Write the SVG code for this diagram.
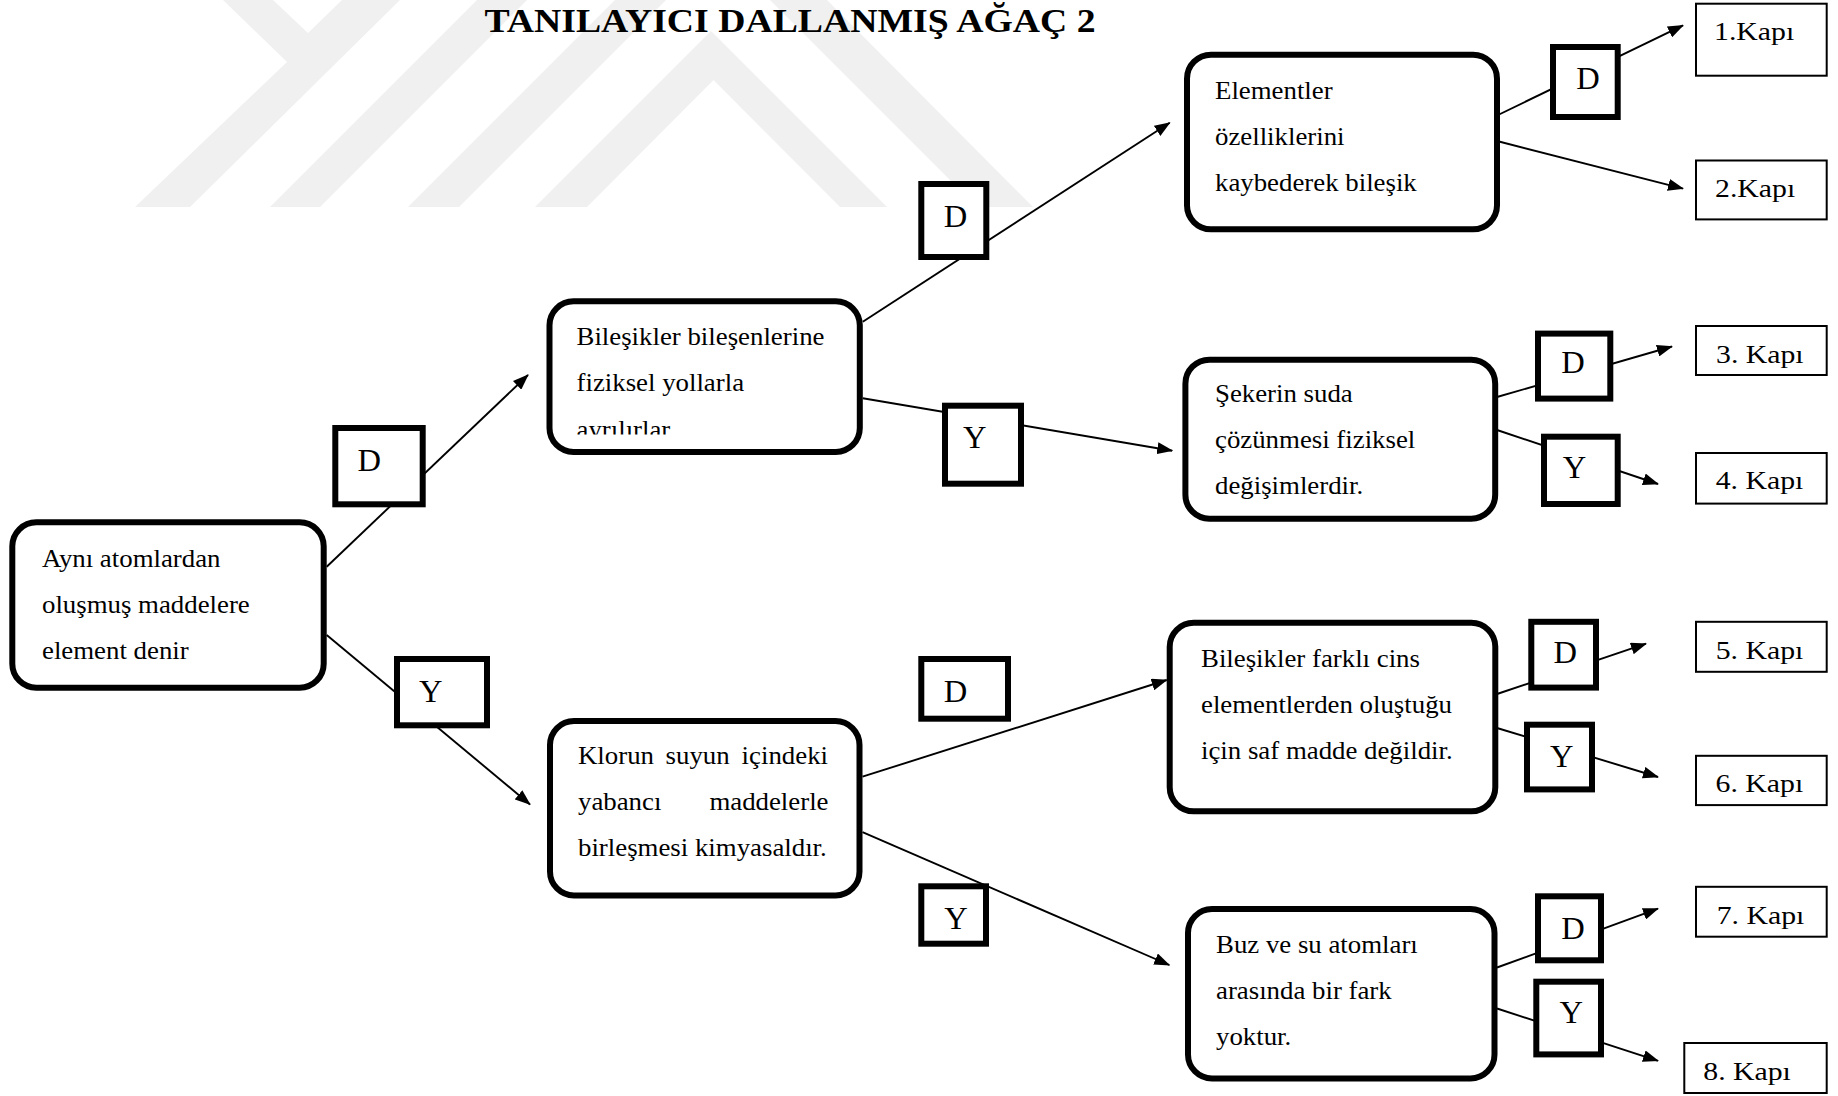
<svg xmlns="http://www.w3.org/2000/svg" width="1838" height="1096" viewBox="0 0 1838 1096">
  <style>
    .bg { fill: #ffffff; }
    .wm { fill: #f0f0f0; }
    .node rect { fill: #ffffff; stroke: #000000; stroke-width: 6; }
    .lbl rect { fill: #ffffff; stroke: #000000; stroke-width: 6; }
    .kapi rect { fill: #ffffff; stroke: #000000; stroke-width: 2; }
    text { font-family: "Liberation Serif", "Times New Roman", serif; fill: #000000; }
    .t { font-size: 24.4px; }
    .lt { font-size: 31px; }
    .kt { font-size: 24.4px; }
    .title { font-size: 33.7px; font-weight: bold; }
    .conn path { fill: none; stroke: #000000; stroke-width: 1.9; marker-end: url(#ah); }
  </style>
  <defs>
    <marker id="ah" markerUnits="userSpaceOnUse" markerWidth="16" markerHeight="12" refX="15" refY="6" orient="auto">
      <path d="M0,0 L16,6 L0,12 z" fill="#000000"/>
    </marker>
    <clipPath id="clipB">
      <rect x="540" y="290" width="330" height="144.5"/>
    </clipPath>
  </defs>

  <rect class="bg" x="0" y="0" width="1838" height="1096"/>

  <!-- faint background emblem -->
  <g id="watermark" class="wm">
    <polygon points="223,0 273,0 308,33 342,0 400,0 190,207 135,207 287,62"/>
    <polygon points="477,0 527,0 320,207 270,207"/>
    <polygon points="615,0 666,0 459,207 408,207"/>
    <polygon points="535,207 711,31 887,207 840,207 713.5,80 587,207"/>
    <polygon points="770,0 827,0 1033,207 977,207"/>
  </g>

  <text id="title" class="title" transform="matrix(1.12 0 0 1 484.4 32.3)">TANILAYICI DALLANMIŞ AĞAÇ 2</text>

  <!-- connectors -->
  <g id="connectors" class="conn">
    <path d="M326.7,566.7 L528,375"/>
    <path d="M326.7,635 L530,804.4"/>
    <path d="M862.8,321.7 L1169.7,122.7"/>
    <path d="M862.8,398.3 L1172.2,450.7"/>
    <path d="M862.5,776.7 L1166.7,680"/>
    <path d="M862.5,832.2 L1169.3,965"/>
    <path d="M1497,115.5 L1683,25.4"/>
    <path d="M1497,141 L1683,188.6"/>
    <path d="M1497,397 L1672,346.5"/>
    <path d="M1497,430 L1658,484"/>
    <path d="M1497,694 L1646,643.7"/>
    <path d="M1497,728 L1658,777"/>
    <path d="M1497,967.5 L1658,908.7"/>
    <path d="M1497,1008.5 L1658,1060.8"/>
  </g>

  <!-- question nodes -->
  <g id="node-root" class="node">
    <rect x="12.3" y="522.3" width="311.4" height="165.4" rx="24"/>
    <text class="t" transform="matrix(1.1 0 0 1 42 567)">Aynı atomlardan</text>
    <text class="t" transform="matrix(1.1 0 0 1 42 613)">oluşmuş maddelere</text>
    <text class="t" transform="matrix(1.1 0 0 1 42 659)">element denir</text>
  </g>

  <g id="node-bilesikler" class="node">
    <rect x="549.5" y="301.3" width="310.3" height="150.7" rx="24"/>
    <text class="t" transform="matrix(1.1 0 0 1 576.5 345)">Bileşikler bileşenlerine</text>
    <text class="t" transform="matrix(1.1 0 0 1 576.5 391)">fiziksel yollarla</text>
    <g clip-path="url(#clipB)">
      <text class="t" transform="matrix(1.1 0 0 1 576.5 438)">ayrılırlar</text>
    </g>
  </g>

  <g id="node-klor" class="node">
    <rect x="550" y="721" width="309.5" height="174.5" rx="24"/>
    <text class="t" transform="matrix(1.1 0 0 1 578 764)">Klorun</text>
    <text class="t" transform="matrix(1.1 0 0 1 665.6 764)">suyun</text>
    <text class="t" text-anchor="end" transform="matrix(1.1 0 0 1 828 764)">içindeki</text>
    <text class="t" transform="matrix(1.1 0 0 1 578 810)">yabancı</text>
    <text class="t" text-anchor="end" transform="matrix(1.1 0 0 1 828.5 810)">maddelerle</text>
    <text class="t" transform="matrix(1.1 0 0 1 578 856)">birleşmesi kimyasaldır.</text>
  </g>

  <g id="node-elementler" class="node">
    <rect x="1187" y="54.7" width="310" height="174.6" rx="24"/>
    <text class="t" transform="matrix(1.1 0 0 1 1215 99)">Elementler</text>
    <text class="t" transform="matrix(1.1 0 0 1 1215 145)">özelliklerini</text>
    <text class="t" transform="matrix(1.1 0 0 1 1215 191)">kaybederek bileşik</text>
  </g>

  <g id="node-seker" class="node">
    <rect x="1185.4" y="359.7" width="309.8" height="159" rx="24"/>
    <text class="t" transform="matrix(1.1 0 0 1 1215 402)">Şekerin suda</text>
    <text class="t" transform="matrix(1.1 0 0 1 1215 448)">çözünmesi fiziksel</text>
    <text class="t" transform="matrix(1.1 0 0 1 1215 494)">değişimlerdir.</text>
  </g>

  <g id="node-farkli" class="node">
    <rect x="1169.7" y="622.8" width="325.6" height="188.5" rx="24"/>
    <text class="t" transform="matrix(1.1 0 0 1 1201 667)">Bileşikler farklı cins</text>
    <text class="t" transform="matrix(1.1 0 0 1 1201 713)">elementlerden oluştuğu</text>
    <text class="t" transform="matrix(1.1 0 0 1 1201 759)">için saf madde değildir.</text>
  </g>

  <g id="node-buz" class="node">
    <rect x="1188" y="909" width="306.5" height="169.5" rx="24"/>
    <text class="t" transform="matrix(1.1 0 0 1 1216 953)">Buz ve su atomları</text>
    <text class="t" transform="matrix(1.1 0 0 1 1216 999)">arasında bir fark</text>
    <text class="t" transform="matrix(1.1 0 0 1 1216 1045)">yoktur.</text>
  </g>

  <!-- D / Y answer labels -->
  <g id="lbl-d1" class="lbl">
    <rect x="335.3" y="428" width="87.4" height="76.3"/>
    <text class="lt" transform="matrix(1.05 0 0 1 357.5 471)">D</text>
  </g>
  <g id="lbl-y1" class="lbl">
    <rect x="397" y="659" width="90" height="66.3"/>
    <text class="lt" transform="matrix(1.05 0 0 1 419 701.7)">Y</text>
  </g>
  <g id="lbl-d2" class="lbl">
    <rect x="921.3" y="184" width="65" height="73"/>
    <text class="lt" transform="matrix(1.05 0 0 1 943.8 226.7)">D</text>
  </g>
  <g id="lbl-y2" class="lbl">
    <rect x="945" y="405.7" width="76" height="78"/>
    <text class="lt" transform="matrix(1.05 0 0 1 963 448)">Y</text>
  </g>
  <g id="lbl-d3" class="lbl">
    <rect x="921.3" y="659" width="86.7" height="59.7"/>
    <text class="lt" transform="matrix(1.05 0 0 1 943.8 702.3)">D</text>
  </g>
  <g id="lbl-y3" class="lbl">
    <rect x="921.3" y="886.3" width="64.7" height="57.4"/>
    <text class="lt" transform="matrix(1.05 0 0 1 944.3 929.3)">Y</text>
  </g>
  <g id="lbl-d4" class="lbl">
    <rect x="1553" y="47" width="64.7" height="70"/>
    <text class="lt" transform="matrix(1.05 0 0 1 1576.2 88.6)">D</text>
  </g>
  <g id="lbl-d5" class="lbl">
    <rect x="1538" y="333.6" width="72.3" height="65"/>
    <text class="lt" transform="matrix(1.05 0 0 1 1561.2 372.5)">D</text>
  </g>
  <g id="lbl-y4" class="lbl">
    <rect x="1544" y="436.7" width="73.7" height="67.3"/>
    <text class="lt" transform="matrix(1.05 0 0 1 1562.8 478.3)">Y</text>
  </g>
  <g id="lbl-d6" class="lbl">
    <rect x="1531.3" y="621.8" width="64.7" height="65.8"/>
    <text class="lt" transform="matrix(1.05 0 0 1 1553.5 663.2)">D</text>
  </g>
  <g id="lbl-y5" class="lbl">
    <rect x="1527" y="724.7" width="65" height="64.7"/>
    <text class="lt" transform="matrix(1.05 0 0 1 1550 766.8)">Y</text>
  </g>
  <g id="lbl-d7" class="lbl">
    <rect x="1538" y="896.3" width="63" height="64"/>
    <text class="lt" transform="matrix(1.05 0 0 1 1561.2 938.8)">D</text>
  </g>
  <g id="lbl-y6" class="lbl">
    <rect x="1536.3" y="981.7" width="64.7" height="72.7"/>
    <text class="lt" transform="matrix(1.05 0 0 1 1559.5 1023.2)">Y</text>
  </g>

  <!-- outcome gates -->
  <g id="kapi-1" class="kapi">
    <rect x="1696" y="3.7" width="130.7" height="72"/>
    <text class="kt" transform="matrix(1.22 0 0 1 1714 39.9)">1.Kapı</text>
  </g>
  <g id="kapi-2" class="kapi">
    <rect x="1696" y="160.5" width="130.7" height="58.9"/>
    <text class="kt" transform="matrix(1.22 0 0 1 1715 196.7)">2.Kapı</text>
  </g>
  <g id="kapi-3" class="kapi">
    <rect x="1696" y="326" width="130.7" height="49"/>
    <text class="kt" transform="matrix(1.22 0 0 1 1716 362.7)">3. Kapı</text>
  </g>
  <g id="kapi-4" class="kapi">
    <rect x="1696" y="453" width="130.7" height="50.6"/>
    <text class="kt" transform="matrix(1.22 0 0 1 1715.7 489.4)">4. Kapı</text>
  </g>
  <g id="kapi-5" class="kapi">
    <rect x="1696" y="621.8" width="130.7" height="50"/>
    <text class="kt" transform="matrix(1.22 0 0 1 1715.7 659.1)">5. Kapı</text>
  </g>
  <g id="kapi-6" class="kapi">
    <rect x="1696" y="755.8" width="130.7" height="49.3"/>
    <text class="kt" transform="matrix(1.22 0 0 1 1715.6 792.4)">6. Kapı</text>
  </g>
  <g id="kapi-7" class="kapi">
    <rect x="1696" y="886.8" width="130.7" height="49.9"/>
    <text class="kt" transform="matrix(1.22 0 0 1 1716.7 924)">7. Kapı</text>
  </g>
  <g id="kapi-8" class="kapi">
    <rect x="1684.3" y="1043" width="142.4" height="50"/>
    <text class="kt" transform="matrix(1.22 0 0 1 1703.3 1079.6)">8. Kapı</text>
  </g>
</svg>
